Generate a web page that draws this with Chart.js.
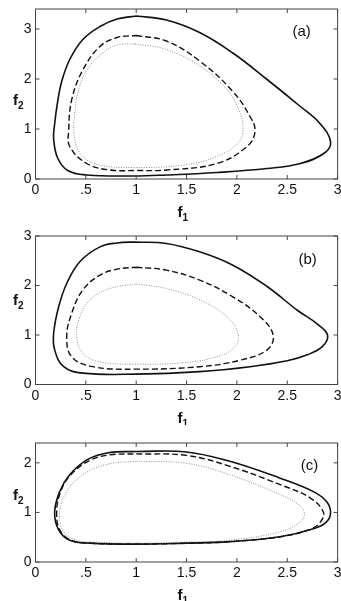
<!DOCTYPE html>
<html>
<head>
<meta charset="utf-8">
<script src="https://cdn.jsdelivr.net/npm/chart.js@4.4.1/dist/chart.umd.min.js"></script>
<style>
  body { margin: 0; background: #fff; }
  canvas { position: absolute; left: 0; }
</style>
</head>
<body>
<canvas id="chartA" width="341" height="225" style="top:0px"></canvas>
<canvas id="chartB" width="341" height="200" style="top:225px"></canvas>
<canvas id="chartC" width="341" height="176" style="top:425px"></canvas>
<script>
// tick labels
const xTickValues = [0, 0.5, 1, 1.5, 2, 2.5, 3];
const xTickLabels = ['0', '.5', '1', '1.5', '2', '2.5', '3'];
const yTicksAB = [0, 1, 2, 3];
const yTicksC = [0, 1, 2];

// (a) closed orbits, [f1, f2]
const orbitA_solid = [[1.0,3.26],[1.3,3.18],[1.63,2.93],[1.96,2.52],[2.3,1.99],[2.63,1.45],[2.82,1.12],[2.93,0.75],[2.87,0.52],[2.63,0.31],[2.3,0.21],[1.8,0.13],[1.3,0.08],[0.97,0.06],[0.51,0.08],[0.32,0.17],[0.22,0.42],[0.18,0.8],[0.19,1.1],[0.22,1.55],[0.26,1.95],[0.34,2.39],[0.47,2.79],[0.64,3.05],[0.81,3.2],[1.0,3.26]];
const orbitA_dashed = [[1.0,2.87],[1.3,2.76],[1.63,2.36],[1.96,1.75],[2.13,1.25],[2.18,0.95],[2.1,0.65],[1.8,0.31],[1.3,0.18],[1.0,0.17],[0.74,0.18],[0.51,0.31],[0.34,0.65],[0.33,0.98],[0.36,1.59],[0.47,2.18],[0.64,2.65],[0.81,2.83],[1.0,2.87]];
const orbitA_dotted = [[0.99,2.7],[1.3,2.59],[1.63,2.26],[1.9,1.79],[2.03,1.32],[2.06,0.98],[2.01,0.72],[1.8,0.45],[1.47,0.28],[0.97,0.23],[0.64,0.28],[0.47,0.45],[0.39,0.79],[0.39,1.32],[0.44,1.86],[0.54,2.26],[0.71,2.59],[0.84,2.69],[0.99,2.7]];

// (b)
const orbitB_solid = [[1.0,2.88],[1.3,2.85],[1.63,2.68],[1.96,2.41],[2.3,1.98],[2.6,1.5],[2.8,1.22],[2.9,1.0],[2.85,0.77],[2.7,0.6],[2.5,0.48],[2.13,0.36],[1.63,0.26],[1.0,0.21],[0.47,0.23],[0.28,0.36],[0.19,0.7],[0.18,1.03],[0.23,1.57],[0.31,2.04],[0.44,2.48],[0.64,2.78],[0.81,2.86],[1.0,2.88]];
const orbitB_dashed = [[1.0,2.37],[1.3,2.31],[1.63,2.11],[1.96,1.77],[2.23,1.37],[2.36,1.0],[2.3,0.7],[2.03,0.49],[1.63,0.36],[1.0,0.31],[0.57,0.36],[0.36,0.56],[0.31,0.97],[0.36,1.44],[0.47,1.91],[0.64,2.21],[0.81,2.33],[1.0,2.37]];
const orbitB_dotted = [[1.0,2.03],[1.3,1.94],[1.63,1.71],[1.9,1.37],[2.01,1.03],[1.98,0.76],[1.8,0.56],[1.47,0.44],[1.0,0.41],[0.64,0.46],[0.47,0.63],[0.41,0.97],[0.44,1.37],[0.54,1.71],[0.74,1.94],[1.0,2.03]];

// (c)
const orbitC_solid = [[1.0,2.23],[1.5,2.22],[1.93,2.03],[2.43,1.69],[2.76,1.42],[2.89,1.22],[2.93,1.0],[2.89,0.81],[2.76,0.67],[2.43,0.51],[1.93,0.41],[1.5,0.38],[1.0,0.36],[0.54,0.38],[0.34,0.44],[0.23,0.65],[0.19,1.0],[0.24,1.42],[0.34,1.76],[0.51,2.06],[0.71,2.2],[1.0,2.23]];
const orbitC_dashed = [[1.0,2.18],[1.5,2.15],[1.93,1.93],[2.43,1.56],[2.73,1.29],[2.86,1.0],[2.83,0.81],[2.73,0.66],[2.43,0.51],[1.93,0.41],[1.5,0.38],[1.0,0.36],[0.54,0.38],[0.34,0.45],[0.24,0.65],[0.21,1.0],[0.25,1.42],[0.35,1.76],[0.54,2.05],[0.74,2.16],[1.0,2.18]];
const orbitC_dotted = [[1.0,2.03],[1.5,1.99],[1.93,1.76],[2.36,1.42],[2.59,1.19],[2.67,1.0],[2.63,0.81],[2.43,0.61],[1.93,0.44],[1.43,0.4],[1.0,0.38],[0.61,0.4],[0.41,0.44],[0.28,0.61],[0.24,1.0],[0.31,1.42],[0.47,1.76],[0.71,1.97],[1.0,2.03]];

const lineStyles = [
  { borderColor: '#111', borderWidth: 1.6, borderDash: [] },
  { borderColor: '#111', borderWidth: 1.4, borderDash: [6, 3] },
  { borderColor: '#8c8c8c', borderWidth: 1, borderDash: [1, 1.5] },
];

const FONT = '"Liberation Sans", Arial, sans-serif';

// draw "f" with a subscript digit
function drawF(ctx, sub, x, y) {
  ctx.font = 'bold 15px ' + FONT;
  ctx.textAlign = 'left';
  ctx.textBaseline = 'alphabetic';
  ctx.fillText('f', x, y);
  const w = ctx.measureText('f').width;
  ctx.font = 'bold 10px ' + FONT;
  ctx.fillText(sub, x + w, y + 4);
}

const framePlugin = {
  id: 'frame',
  afterDraw(chart, args, opts) {
    const { ctx, chartArea: a, scales: { x, y } } = chart;
    ctx.save();
    ctx.strokeStyle = '#444';
    ctx.lineWidth = 1;
    ctx.strokeRect(a.left, a.top, a.right - a.left, a.bottom - a.top);
    ctx.beginPath();
    x.ticks.forEach(t => {
      const px = x.getPixelForValue(t.value);
      ctx.moveTo(px, a.bottom); ctx.lineTo(px, a.bottom - 4);
      ctx.moveTo(px, a.top); ctx.lineTo(px, a.top + 4);
    });
    y.ticks.forEach(t => {
      const py = y.getPixelForValue(t.value);
      ctx.moveTo(a.left, py); ctx.lineTo(a.left + 4, py);
      ctx.moveTo(a.right, py); ctx.lineTo(a.right - 4, py);
    });
    ctx.stroke();

    ctx.fillStyle = '#111';
    drawF(ctx, '1', (a.left + a.right) / 2 - 9, a.bottom + 38);
    drawF(ctx, '2', 13, opts.labelY);

    ctx.font = '15px ' + FONT;
    ctx.textAlign = 'center';
    ctx.textBaseline = 'middle';
    ctx.fillText(opts.tag, a.right - opts.tagDx, a.top + opts.tagDy);
    ctx.restore();
  }
};

const panels = [
  { id: 'chartA', orbits: [orbitA_solid, orbitA_dashed, orbitA_dotted], yMax: 3.4, yTicks: yTicksAB,
    tag: '(a)', top: 9, bottom: 179, labelY: 105, tagDx: 36, tagDy: 23 },
  { id: 'chartB', orbits: [orbitB_solid, orbitB_dashed, orbitB_dotted], yMax: 3, yTicks: yTicksAB,
    tag: '(b)', top: 11, bottom: 159.5, labelY: 80, tagDx: 30, tagDy: 24 },
  { id: 'chartC', orbits: [orbitC_solid, orbitC_dashed, orbitC_dotted], yMax: 2.4, yTicks: yTicksC,
    tag: '(c)', top: 18, bottom: 137, labelY: 75, tagDx: 28, tagDy: 23 },
];

panels.forEach(p => {
  const canvas = document.getElementById(p.id);
  const H = canvas.height;
  new Chart(canvas.getContext('2d'), {
    type: 'scatter',
    data: {
      datasets: p.orbits.map((orbit, i) => ({
        data: orbit.map(([fx, fy]) => ({ x: fx, y: fy })),
        showLine: true,
        tension: 0.4,
        pointRadius: 0,
        fill: false,
        ...lineStyles[i],
      })),
    },
    options: {
      responsive: false,
      animation: false,
      events: [],
      layout: { padding: { top: p.top, left: 0, right: 3.4, bottom: 0 } },
      plugins: {
        legend: { display: false },
        tooltip: { enabled: false },
        frame: { tag: p.tag, labelY: p.labelY, tagDx: p.tagDx, tagDy: p.tagDy },
      },
      scales: {
        x: {
          type: 'linear',
          min: 0,
          max: 3,
          grid: { display: false, drawTicks: false },
          border: { display: false },
          afterBuildTicks: s => { s.ticks = xTickValues.map(v => ({ value: v })); },
          afterFit: s => { s.height = H - p.bottom; s.paddingLeft = 0; s.paddingRight = 0; },
          ticks: {
            padding: 3,
            maxRotation: 0,
            autoSkip: false,
            color: '#111',
            font: { family: FONT, size: 14 },
            callback: v => xTickLabels[xTickValues.indexOf(v)],
          },
        },
        y: {
          type: 'linear',
          min: 0,
          max: p.yMax,
          grid: { display: false, drawTicks: false },
          border: { display: false },
          afterBuildTicks: s => { s.ticks = p.yTicks.map(v => ({ value: v })); },
          afterFit: s => { s.width = 35.5; s.paddingTop = 0; s.paddingBottom = 0; },
          ticks: {
            padding: 4,
            color: '#111',
            font: { family: FONT, size: 14 },
            callback: v => String(v),
          },
        },
      },
    },
    plugins: [framePlugin],
  });
});
</script>
</body>
</html>
